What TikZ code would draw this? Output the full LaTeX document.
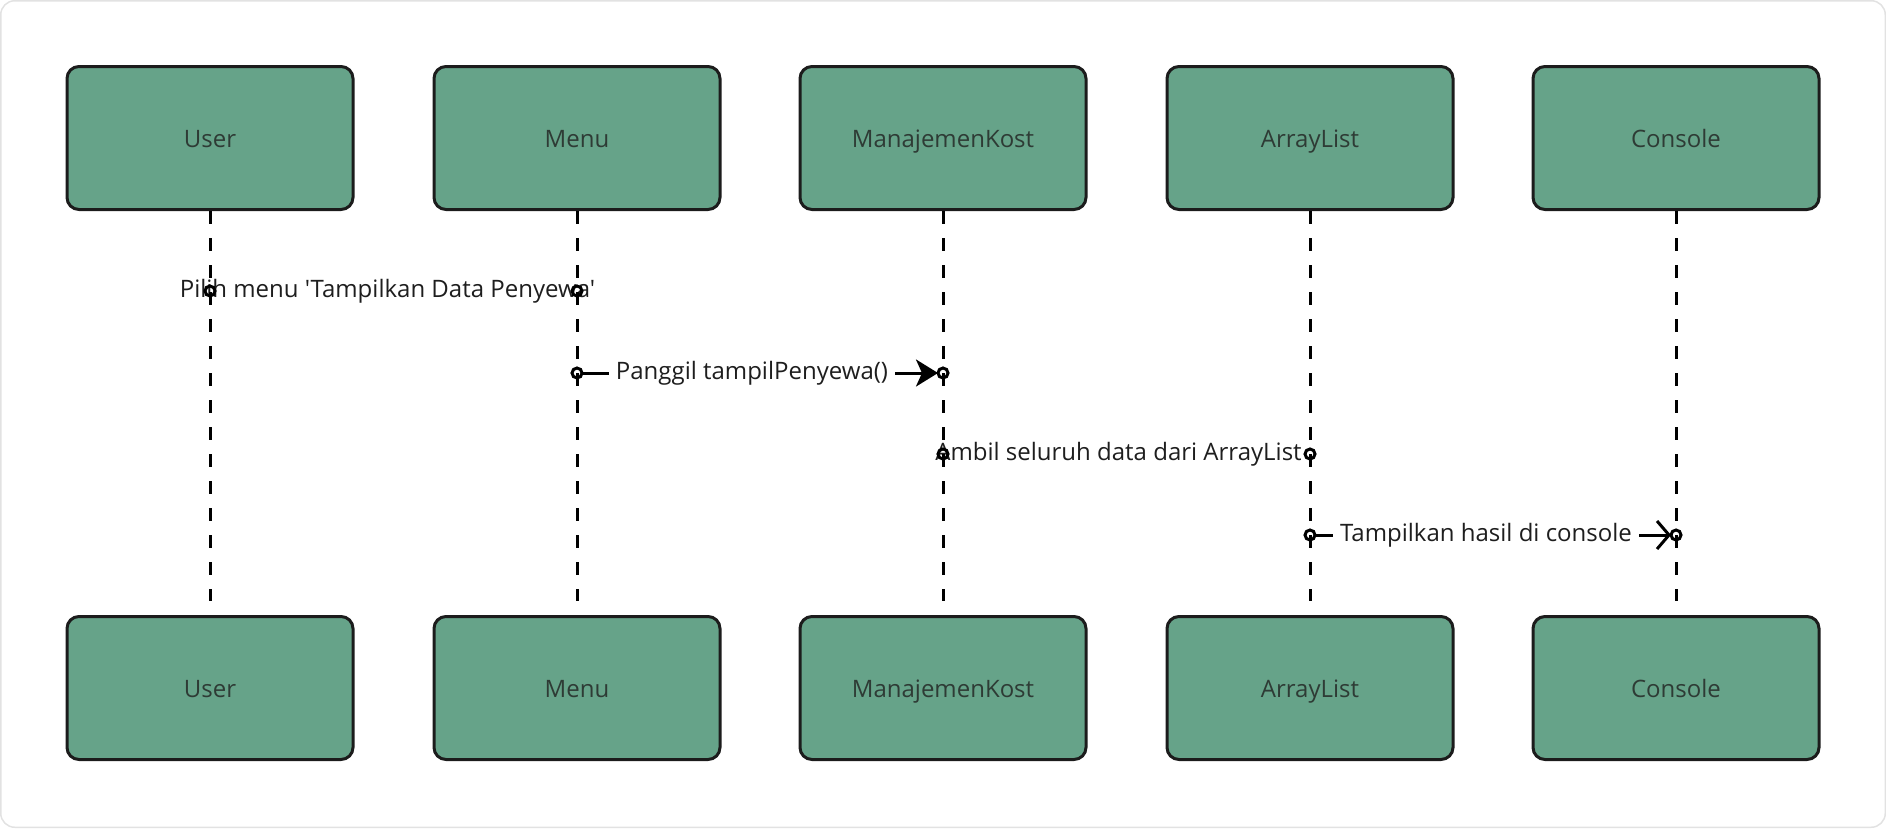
\documentclass[tikz,border=0pt]{standalone}
\usepackage{fontspec}
\setmainfont{Open Sans}[Ligatures=TeXOff]
\usetikzlibrary{arrows.meta}
\definecolor{boxfill}{HTML}{66A389}
\definecolor{boxline}{HTML}{1C1C1C}
\definecolor{boxtext}{HTML}{2E3B35}
\definecolor{msgtext}{HTML}{1E1E1E}
\definecolor{framegray}{HTML}{E2E2E2}
\tikzset{
  actor/.style={draw=boxline, fill=boxfill, line width=3pt, rounded corners=12pt,
    minimum width=286pt, minimum height=143pt, inner sep=0pt,
    text height=22pt, text depth=4pt,
    text=boxtext, font=\fontsize{24}{28}\selectfont},
  lifeline/.style={draw=black, line width=3pt, dash pattern=on 13pt off 14pt, shorten >=14pt},
  msgline/.style={draw=black, line width=3pt, shorten <=5pt, shorten >=5pt},
  msglabel/.style={fill=white, inner xsep=7pt, inner ysep=2pt, text=msgtext,
    text height=17pt, text depth=5pt,
    font=\fontsize{24}{28}\selectfont},
  endpt/.style={circle, draw=black, fill=none, line width=3pt, minimum size=10pt, inner sep=0pt},
  filledhead/.style={-{Stealth[length=22pt,width=27pt,inset=6pt]}},
  openhead/.style={-{Straight Barb[length=12pt,width=28pt]}}
}
\begin{document}
\begin{tikzpicture}[x=1pt,y=-1pt]
\useasboundingbox (0,0) rectangle (1886,828);
\draw[framegray, line width=1.5pt, rounded corners=14pt] (0.75,0.75) rectangle (1885.25,827.25);

% actors top
\node[actor] (uT) at (210,138) {User};
\node[actor] (mT) at (577,138) {Menu};
\node[actor] (kT) at (943,138) {ManajemenKost};
\node[actor] (aT) at (1310,138) {ArrayList};
\node[actor] (cT) at (1676,138) {Console};
% actors bottom
\node[actor] (uB) at (210,688) {User};
\node[actor] (mB) at (577,688) {Menu};
\node[actor] (kB) at (943,688) {ManajemenKost};
\node[actor] (aB) at (1310,688) {ArrayList};
\node[actor] (cB) at (1676,688) {Console};

% message end points
\coordinate (m1a) at (210,291);
\coordinate (m1b) at (577,291);
\coordinate (m2a) at (577,373);
\coordinate (m2b) at (943,373);
\coordinate (m3a) at (943,454);
\coordinate (m3b) at (1310,454);
\coordinate (m4a) at (1310,535);
\coordinate (m4b) at (1676,535);

% messages
\draw[msgline] (m1a) -- node[msglabel, xshift=-6pt] (l1) {Pilih menu 'Tampilkan Data Penyewa'} (m1b);
\draw[msgline, filledhead] (m2a) -- node[msglabel, xshift=-8pt] (l2) {Panggil tampilPenyewa()} (m2b);
\draw[msgline] (m3a) -- node[msglabel, xshift=-8pt] (l3) {Ambil seluruh data dari ArrayList} (m3b);
\draw[msgline, openhead] (m4a) -- node[msglabel, xshift=-7pt] (l4) {Tampilkan hasil di console} (m4b);

% lifelines
\draw[lifeline] (uT.south) -- (uB.north);
\draw[lifeline] (mT.south) -- (mB.north);
\draw[lifeline] (kT.south) -- (kB.north);
\draw[lifeline] (aT.south) -- (aB.north);
\draw[lifeline] (cT.south) -- (cB.north);

% end point circles
\node[endpt] (c1a) at (m1a) {};
\node[endpt] (c1b) at (m1b) {};
\node[endpt] (c2a) at (m2a) {};
\node[endpt] (c2b) at (m2b) {};
\node[endpt] (c3a) at (m3a) {};
\node[endpt] (c3b) at (m3b) {};
\node[endpt] (c4a) at (m4a) {};
\node[endpt] (c4b) at (m4b) {};
\end{tikzpicture}
\end{document}
